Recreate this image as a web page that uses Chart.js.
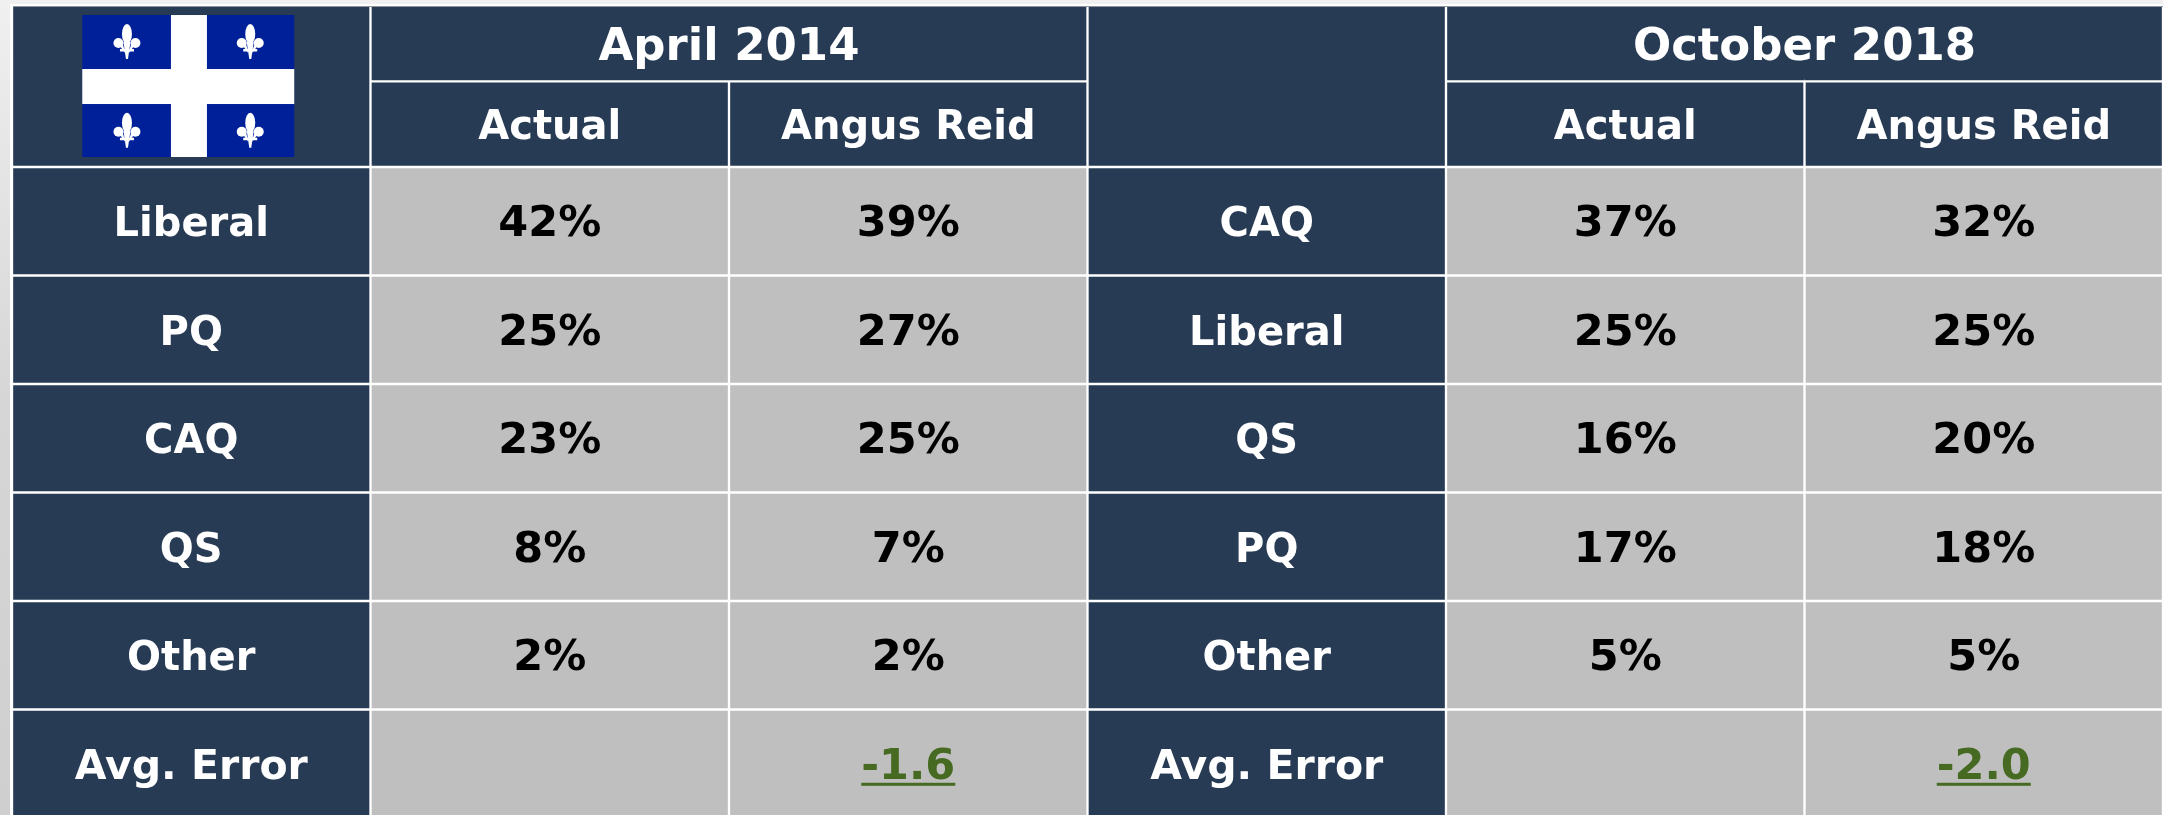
<!DOCTYPE html>
<html>
<head>
<meta charset="utf-8">
<title>Quebec polling accuracy</title>
<script src="https://cdn.jsdelivr.net/npm/chart.js@4"></script>
<style>
  html, body { margin: 0; padding: 0; width: 2163px; height: 815px; overflow: hidden; }
  body {
    background:
      linear-gradient(#8f939c, #8f939c) 13px 6px / 2150px 1px no-repeat,
      linear-gradient(#ffffff, #ffffff) 10px 4px / 2153px 811px no-repeat,
      linear-gradient(180deg, #f0f0f0 0, #d6d6d6 400px, #cfcfcf 815px);
  }
  canvas { display: block; }
</style>
</head>
<body>
<canvas id="tabela" width="2163" height="815"></canvas>
<script>
// Dados da tabela
const columns = ['flag', 'april actual', 'april angus', 'middle', 'october actual', 'october angus'];
const elections = ['April 2014', 'October 2018'];
const subHeaders = ['Actual', 'Angus Reid'];
const partiesLeft = ['Liberal', 'PQ', 'CAQ', 'QS', 'Other'];
const partiesRight = ['CAQ', 'Liberal', 'QS', 'PQ', 'Other'];
const errorLabel = 'Avg. Error';
const actual2014 = [42, 25, 23, 8, 2];
const angus2014 = [39, 27, 25, 7, 2];
const actual2018 = [37, 25, 16, 17, 5];
const angus2018 = [32, 25, 20, 18, 5];
const error2014 = '-1.6';
const error2018 = '-2.0';

// Bordas das linhas, em unidades do eixo y
const rowEdges = [0, 0.685, 1.475, 2.475, 3.475, 4.475, 5.475, 6.475, 7.475];

const navy = '#283b55';
const grey = '#bfbfbf';
const green = '#466a22';
const fontName = '"DejaVu Sans", Verdana, sans-serif';

function band(i, j) {
  return [rowEdges[i], rowEdges[j]];
}

// Cada dataset é uma faixa da tabela
const datasets = [];
// duas primeiras linhas: colunas 0 e 3 ocupam as duas
datasets.push({ label: 'title', kind: 'title', data: [band(0, 2), band(0, 1), band(0, 1), band(0, 2), band(0, 1), band(0, 1)] });
datasets.push({ label: 'sub', kind: 'sub', data: [null, band(1, 2), band(1, 2), null, band(1, 2), band(1, 2)] });
for (let i = 0; i < partiesLeft.length + 1; i++) {
  datasets.push({ label: 'row' + i, kind: 'body', data: columns.map(function() { return band(i + 2, i + 3); }) });
}

datasets.forEach(function(ds) {
  ds.backgroundColor = function(ctx) {
    if (ds.kind !== 'body') return navy;
    return (ctx.dataIndex === 0 || ctx.dataIndex === 3) ? navy : grey;
  };
  ds.borderColor = '#ffffff';
  ds.borderSkipped = false;
  ds.borderWidth = function(ctx) {
    const c = ctx.dataIndex;
    const w = { left: 1.5, right: 1.5, top: 1.5, bottom: 1.5 };
    if (ds.kind === 'title') w.top = 0;
    // células mescladas dos títulos
    if (ds.kind === 'title' && (c === 1 || c === 4)) w.right = 0;
    if (ds.kind === 'title' && (c === 2 || c === 5)) w.left = 0;
    return w;
  };
});

function drawText(ctx, text, x, y, size, color) {
  ctx.font = 'bold ' + size + 'px ' + fontName;
  ctx.fillStyle = color;
  ctx.textAlign = 'center';
  ctx.textBaseline = 'alphabetic';
  ctx.fillText(text, x, y);
}

// Flor-de-lis da bandeira
function drawFleur(ctx, x, y) {
  ctx.fillStyle = '#ffffff';
  ctx.beginPath();
  ctx.ellipse(x, y - 8, 5, 10, 0, 0, Math.PI * 2);
  ctx.fill();
  ctx.beginPath();
  ctx.moveTo(x - 3.5, y);
  ctx.lineTo(x + 3.5, y);
  ctx.lineTo(x + 1, y + 17);
  ctx.lineTo(x - 1, y + 17);
  ctx.closePath();
  ctx.fill();
  [-1, 1].forEach(function(s) {
    ctx.beginPath();
    ctx.ellipse(x + s * 8.5, y + 1, 5, 5, 0, 0, Math.PI * 2);
    ctx.fill();
    ctx.beginPath();
    ctx.moveTo(x + s * 2, y + 11);
    ctx.quadraticCurveTo(x + s * 3, y + 2, x + s * 8, y - 3);
    ctx.lineTo(x + s * 7, y + 4);
    ctx.quadraticCurveTo(x + s * 5, y + 7, x + s * 2, y + 11);
    ctx.fill();
  });
  ctx.fillRect(x - 7, y + 7, 14, 2.5);
}

function drawFlag(ctx, chart) {
  const sx = chart.scales.x;
  const sy = chart.scales.y;
  const cx = sx.getPixelForValue(0);
  const cy = (sy.getPixelForValue(rowEdges[0]) + sy.getPixelForValue(rowEdges[2])) / 2;
  const w = 212, h = 142;
  const x = cx - w / 2 - 3, y = cy - h / 2 - 1;
  ctx.fillStyle = '#00209a';
  ctx.fillRect(x, y, w, h);
  ctx.fillStyle = '#ffffff';
  ctx.fillRect(x + 88.7, y, 36, h);
  ctx.fillRect(x, y + 54, w, 35);
  [[44.7, 27], [168, 27], [44.7, 115.7], [168, 115.7]].forEach(function(p) {
    drawFleur(ctx, x + p[0], y + p[1]);
  });
}

// Plugin para os textos das células, posicionados pelas escalas
const cellText = {
  id: 'cellText',
  afterDatasetsDraw(chart) {
    const ctx = chart.ctx;
    const sx = chart.scales.x;
    const sy = chart.scales.y;
    const midY = function(i) { return (sy.getPixelForValue(rowEdges[i]) + sy.getPixelForValue(rowEdges[i + 1])) / 2 + 15; };
    ctx.save();
    drawFlag(ctx, chart);
    // títulos das eleições
    [1, 4].forEach(function(c, k) {
      const xm = sx.getPixelForValue(c + 0.5);
      // tapa a emenda entre as duas células mescladas
      ctx.fillStyle = navy;
      ctx.fillRect(xm - 2, sy.getPixelForValue(rowEdges[0]), 4, sy.getPixelForValue(rowEdges[1]) - sy.getPixelForValue(rowEdges[0]) - 2);
      drawText(ctx, elections[k], xm, midY(0) + 1, 45, '#ffffff');
      drawText(ctx, subHeaders[0], sx.getPixelForValue(c), midY(1), 40, '#ffffff');
      drawText(ctx, subHeaders[1], sx.getPixelForValue(c + 1), midY(1), 40, '#ffffff');
    });
    const cols = [[0, partiesLeft, actual2014, angus2014, error2014], [3, partiesRight, actual2018, angus2018, error2018]];
    cols.forEach(function(g) {
      const c = g[0];
      g[1].forEach(function(name, i) {
        const y = midY(i + 2);
        drawText(ctx, name, sx.getPixelForValue(c), y, 40, '#ffffff');
        drawText(ctx, g[2][i] + '%', sx.getPixelForValue(c + 1), y, 43, '#000000');
        drawText(ctx, g[3][i] + '%', sx.getPixelForValue(c + 2), y, 43, '#000000');
      });
      const y = midY(7);
      drawText(ctx, errorLabel, sx.getPixelForValue(c), y, 41, '#ffffff');
      const ex = sx.getPixelForValue(c + 2);
      drawText(ctx, g[4], ex, y, 43, green);
      const tw = ctx.measureText(g[4]).width;
      ctx.fillStyle = green;
      ctx.fillRect(ex - tw / 2, y + 4, tw, 3);
    });
    ctx.restore();
  }
};

const chart = new Chart(document.getElementById('tabela').getContext('2d'), {
  type: 'bar',
  data: { labels: columns, datasets: datasets },
  options: {
    responsive: false,
    animation: false,
    layout: { padding: { left: 12, top: 7, right: 0, bottom: 0 } },
    datasets: { bar: { grouped: false, barPercentage: 1, categoryPercentage: 1 } },
    plugins: { legend: { display: false }, tooltip: { enabled: false } },
    scales: {
      x: { type: 'category', display: false, offset: true },
      y: { type: 'linear', display: false, reverse: true, min: 0, max: 7.447 }
    }
  },
  plugins: [cellText]
});
</script>
</body>
</html>
